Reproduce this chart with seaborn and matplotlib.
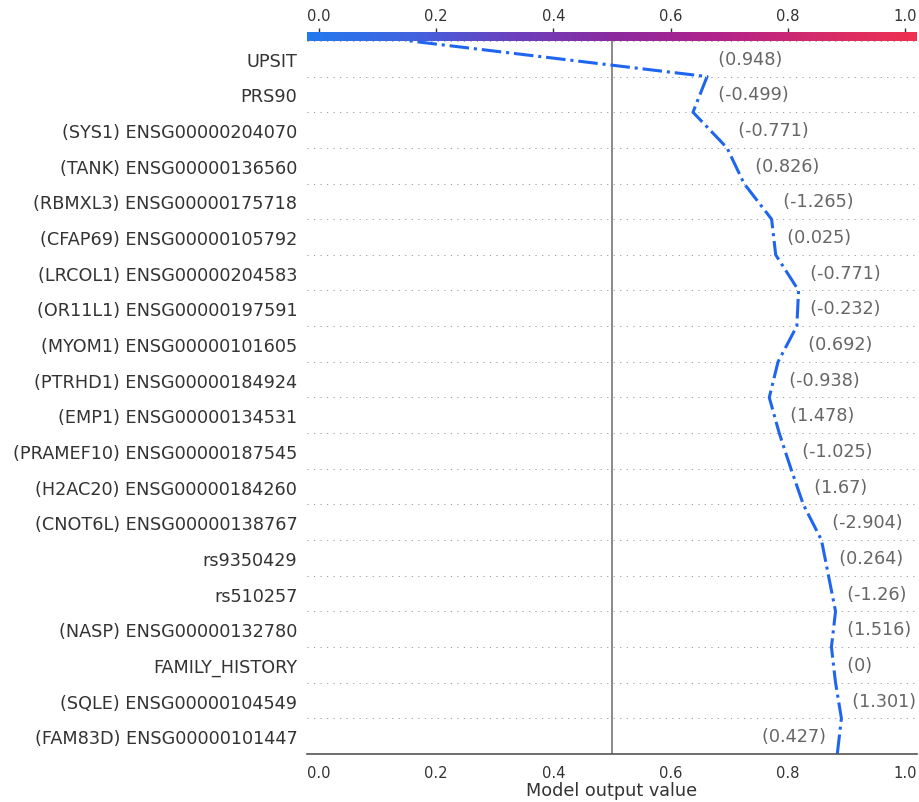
import numpy as np
import pandas as pd
import matplotlib
matplotlib.use("Agg")
import matplotlib.pyplot as plt
import seaborn as sns
from matplotlib.colors import LinearSegmentedColormap, Normalize
from matplotlib.cm import ScalarMappable

# === Data (top row first, as displayed) ===
features = [
    "UPSIT", "PRS90", "(SYS1) ENSG00000204070", "(TANK) ENSG00000136560",
    "(RBMXL3) ENSG00000175718", "(CFAP69) ENSG00000105792",
    "(LRCOL1) ENSG00000204583", "(OR11L1) ENSG00000197591",
    "(MYOM1) ENSG00000101605", "(PTRHD1) ENSG00000184924",
    "(EMP1) ENSG00000134531", "(PRAMEF10) ENSG00000187545",
    "(H2AC20) ENSG00000184260", "(CNOT6L) ENSG00000138767",
    "rs9350429", "rs510257", "(NASP) ENSG00000132780", "FAMILY_HISTORY",
    "(SQLE) ENSG00000104549", "(FAM83D) ENSG00000101447",
]
feature_values = [
    0.948, -0.499, -0.771, 0.826, -1.265, 0.025, -0.771, -0.232, 0.692, -0.938,
    1.478, -1.025, 1.67, -2.904, 0.264, -1.26, 1.516, 0, 1.301, 0.427,
]
# cumulative model output at the row boundaries, bottom (0) to top (20)
cum_output = [
    0.884, 0.891, 0.881, 0.874, 0.881, 0.869, 0.857, 0.826, 0.805, 0.785,
    0.768, 0.783, 0.815, 0.818, 0.779, 0.772, 0.725, 0.696, 0.638, 0.662,
    0.155,
]
base_value = 0.5
x_ticks = [0.0, 0.2, 0.4, 0.6, 0.8, 1.0]

n = len(features)
xlim = (-0.02, 1.02)

# === Style ===
sns.set_style("white")
plt.rcParams["font.family"] = ["DejaVu Sans"]

cmap = LinearSegmentedColormap.from_list(
    "shap_like",
    ["#2379ee", "#3f63df", "#6a40bf", "#8a2a9e", "#b0228c", "#d22a6c", "#ef3050"],
)

fig = plt.figure(figsize=(9.19, 8.03), dpi=100)
ax = fig.add_axes([0.3341, 0.0598, 0.6638, 0.888])

# dotted row separators + base value line
for i in range(n + 1):
    ax.axhline(i, color="#999999", lw=0.7, dashes=(1.2, 5.5), zorder=-1)
ax.axvline(base_value, color="#808080", lw=1.3, zorder=-1)

# decision line
df = pd.DataFrame({"output": cum_output, "pos": np.arange(n + 1)})
sns.lineplot(data=df, x="output", y="pos", sort=False, orient="y",
             color="#1e66ef", lw=2.2, linestyle="-.", ax=ax)

# feature value annotations
disp_features = features[::-1]
disp_values = feature_values[::-1]
for i, v in enumerate(disp_values):
    txt = "({})".format(f"{v:,.3f}".rstrip("0").rstrip("."))
    seg = cum_output[i:i + 2]
    if i == 0:
        # bottom label sits on the left of the line in the original
        ax.text(min(seg), i + 0.5, txt + "  ", ha="right", va="center",
                fontsize=12.7, color="#666666")
    else:
        ax.text(max(seg), i + 0.5, "  " + txt, ha="left", va="center",
                fontsize=12.7, color="#666666")

ax.set_xlim(*xlim)
ax.set_ylim(0, n)
ax.set_yticks(np.arange(n) + 0.5)
ax.set_yticklabels(disp_features, fontsize=12.7, color="#333333")
ax.set_xticks(x_ticks)
ax.set_xticklabels([f"{t:.1f}" for t in x_ticks], fontsize=10.6, color="#333333")
ax.tick_params(axis="y", length=0, pad=7)
ax.tick_params(axis="x", length=4, width=1, color="#555555", pad=4)
ax.set_xlabel("Model output value", fontsize=12.7, color="#333333", labelpad=1)
ax.set_ylabel("")
for s in ["left", "right", "top"]:
    ax.spines[s].set_visible(False)
ax.spines["bottom"].set_color("#555555")
ax.spines["bottom"].set_linewidth(1.2)

# colorbar on top
cax = fig.add_axes([0.3341, 0.9477, 0.6638, 0.0118])
sm = ScalarMappable(norm=Normalize(vmin=xlim[0], vmax=xlim[1]), cmap=cmap)
cb = fig.colorbar(sm, cax=cax, orientation="horizontal")
cb.outline.set_visible(False)
cb.set_ticks(x_ticks)
cax.xaxis.set_ticks_position("top")
cax.xaxis.set_label_position("top")
cb.set_ticklabels([f"{t:.1f}" for t in x_ticks])
cax.tick_params(axis="x", length=3, width=1, color="#333333", labelsize=10.6,
                labelcolor="#333333", pad=3)

plt.savefig("out.png", dpi=100)
